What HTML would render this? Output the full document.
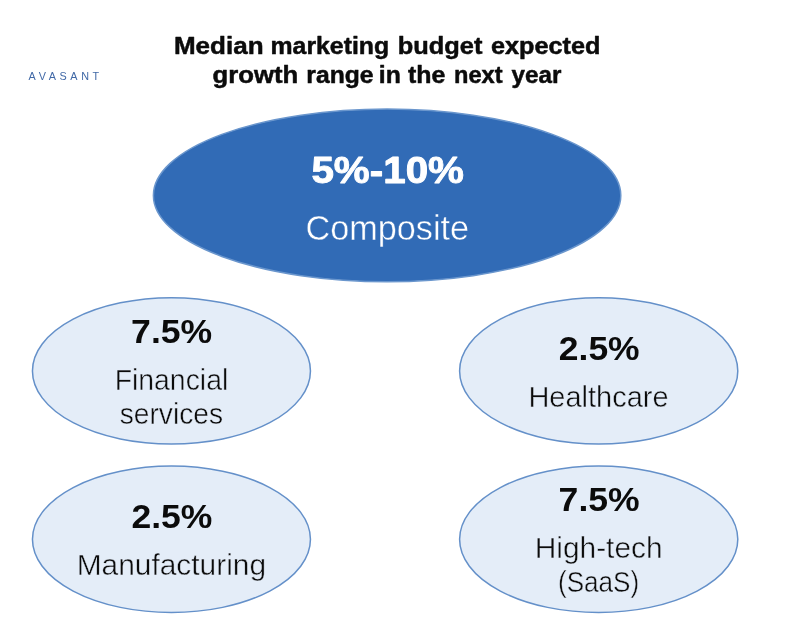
<!DOCTYPE html>
<html lang="en">
<head>
<meta charset="utf-8">
<title>Median marketing budget expected growth range in the next year</title>
<style>
  html, body { margin: 0; padding: 0; background: #ffffff; }
  body { width: 790px; height: 637px; overflow: hidden; position: relative; font-family: "Liberation Sans", sans-serif; }
  svg { position: absolute; left: 0; top: 0; display: block; }
  text { font-family: "Liberation Sans", sans-serif; }
  .b { font-weight: bold; }
  .k { fill: #0b0b0b; }
  .t { stroke: #0b0b0b; stroke-width: 0.5; stroke-linejoin: round; }
  .w { fill: #ffffff; }
  .n { stroke: #e4edf8; stroke-width: 0.45; }
  .nb { stroke: #316bb6; stroke-width: 0.45; }
  .u { stroke: #ffffff; stroke-width: 0.9; stroke-linejoin: round; }
  .e { fill: #e4edf8; stroke: #6490c9; stroke-width: 1.5; }
</style>
</head>
<body>
<svg width="790" height="637" viewBox="0 0 790 637">
  <rect x="0" y="0" width="790" height="637" fill="#ffffff"/>

  <!-- logo -->
  <text x="28.6" y="79.5" font-size="10.8" fill="#4068a6" textLength="70.6" lengthAdjust="spacing">AVASANT</text>

  <!-- title -->
  <text class="b k t" y="54.00" font-size="24.5"><tspan x="173.94" textLength="89.61" lengthAdjust="spacingAndGlyphs">Median</tspan> <tspan x="270.51" textLength="118.66" lengthAdjust="spacingAndGlyphs">marketing</tspan> <tspan x="397.77" textLength="84.65" lengthAdjust="spacingAndGlyphs">budget</tspan> <tspan x="491.03" textLength="109.36" lengthAdjust="spacingAndGlyphs">expected</tspan></text>
  <text class="b k t" y="83.00" font-size="24.5"><tspan x="212.61" textLength="85.62" lengthAdjust="spacingAndGlyphs">growth</tspan> <tspan x="306.32" textLength="67.18" lengthAdjust="spacingAndGlyphs">range</tspan> <tspan x="378.78" textLength="22.00" lengthAdjust="spacingAndGlyphs">in</tspan> <tspan x="408.00" textLength="37.33" lengthAdjust="spacingAndGlyphs">the</tspan> <tspan x="453.98" textLength="48.53" lengthAdjust="spacingAndGlyphs">next</tspan> <tspan x="511.52" textLength="49.84" lengthAdjust="spacingAndGlyphs">year</tspan></text>

  <!-- composite -->
  <ellipse cx="387.1" cy="195.4" rx="233.7" ry="86.3" fill="#316bb6" stroke="#6a96cd" stroke-width="1.5"/>
  <text class="b w u" x="311.43" y="183.00" font-size="37.6" textLength="152.60" lengthAdjust="spacingAndGlyphs">5%-10%</text>
  <text class="w nb" x="305.47" y="240.00" font-size="35" textLength="163.66" lengthAdjust="spacingAndGlyphs">Composite</text>

  <!-- financial services -->
  <ellipse class="e" cx="171.45" cy="370.9" rx="139" ry="73.2"/>
  <text class="b k" x="131.13" y="343.00" font-size="34" textLength="81.08" lengthAdjust="spacingAndGlyphs">7.5%</text>
  <text class="k n" x="114.67" y="390.00" font-size="29.2" textLength="113.57" lengthAdjust="spacingAndGlyphs">Financial</text>
  <text class="k n" x="119.63" y="424.00" font-size="29.2" textLength="103.44" lengthAdjust="spacingAndGlyphs">services</text>

  <!-- healthcare -->
  <ellipse class="e" cx="598.7" cy="370.9" rx="139.1" ry="73.2"/>
  <text class="b k" x="558.83" y="360.00" font-size="34" textLength="80.78" lengthAdjust="spacingAndGlyphs">2.5%</text>
  <text class="k n" x="528.42" y="407.00" font-size="29.2" textLength="140.12" lengthAdjust="spacingAndGlyphs">Healthcare</text>

  <!-- manufacturing -->
  <ellipse class="e" cx="171.45" cy="539.3" rx="139" ry="73.2"/>
  <text class="b k" x="131.43" y="528.00" font-size="34" textLength="80.88" lengthAdjust="spacingAndGlyphs">2.5%</text>
  <text class="k n" x="76.65" y="575.00" font-size="29.2" textLength="189.42" lengthAdjust="spacingAndGlyphs">Manufacturing</text>

  <!-- high-tech -->
  <ellipse class="e" cx="598.7" cy="539.3" rx="139.1" ry="73.2"/>
  <text class="b k" x="558.63" y="511.00" font-size="34" textLength="80.98" lengthAdjust="spacingAndGlyphs">7.5%</text>
  <text class="k n" x="534.65" y="558.00" font-size="29.2" textLength="127.99" lengthAdjust="spacingAndGlyphs">High-tech</text>
  <text class="k n" x="558.02" y="592.00" font-size="29.2" textLength="81.17" lengthAdjust="spacingAndGlyphs">(SaaS)</text>
</svg>
</body>
</html>
